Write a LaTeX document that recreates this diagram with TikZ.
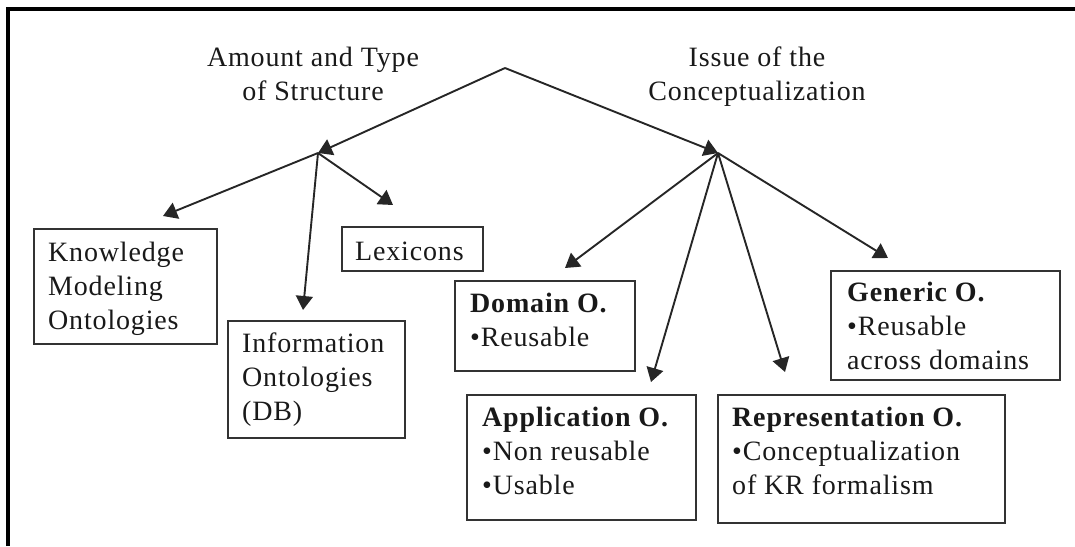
\documentclass[tikz,border=0pt]{standalone}
\usepackage{fontspec}
\setmainfont[LetterSpace=3]{Liberation Serif}
\usetikzlibrary{arrows.meta}

\newcommand\dfont{\fontsize{28}{34}\selectfont}

\begin{document}
\begin{tikzpicture}[x=1pt,y=-1pt,
  box/.style={draw=black!80, line width=2.2pt, inner sep=0pt, anchor=north west},
  txt/.style={font=\dfont, align=left, inner sep=0pt, anchor=north west, text=black!90},
  ttl/.style={font=\dfont, align=center, inner sep=0pt, anchor=north, text=black!90},
  link/.style={draw=black!85, line width=1.9pt, -{Triangle[length=14pt,width=17pt]}},
  rule/.style={draw=black, line width=3.2pt}]

  \useasboundingbox (0,0) rectangle (1075,546);

  % frame lines along the top and left edge
  \coordinate (fl) at (8,546);
  \coordinate (fc) at (8,9);
  \coordinate (fr) at (1075,9);
  \draw[rule] (fl) -- (fc) -- (fr);

  % branch points
  \coordinate (top) at (505,68);
  \coordinate (jl) at (318,153);
  \coordinate (jr) at (718,153);

  % category headings
  \node[ttl] (amount) at (313,42.2) {\strut Amount and Type\\of Structure};
  \node[ttl] (issue) at (757,42.2) {\strut Issue of the\\Conceptualization};

  % boxes
  \node[box, minimum width=183pt, minimum height=115pt] (kmo) at (33,228) {};
  \node[box, minimum width=141pt, minimum height=44pt]  (lex) at (341,226) {};
  \node[box, minimum width=177pt, minimum height=117pt] (inf) at (227,320) {};
  \node[box, minimum width=180pt, minimum height=90pt]  (dom) at (454,280) {};
  \node[box, minimum width=229pt, minimum height=125pt] (app) at (466,394) {};
  \node[box, minimum width=287pt, minimum height=128pt] (rep) at (717,394) {};
  \node[box, minimum width=229pt, minimum height=109pt] (gen) at (830,270) {};

  % box texts
  \node[txt] (kmo-t) at (48,237.2)  {\strut Knowledge\\Modeling\\Ontologies};
  \node[txt] (lex-t) at (355,236.2) {\strut Lexicons};
  \node[txt] (inf-t) at (242,328.2) {\strut Information\\Ontologies\\(DB)};
  \node[txt] (dom-t) at (470,288.7) {\strut\textbf{Domain O.}\\•Reusable};
  \node[txt] (app-t) at (482,402.7) {\strut\textbf{Application O.}\\•Non reusable\\•Usable};
  \node[txt] (rep-t) at (732,402.7) {\strut\textbf{Representation O.}\\•Conceptualization\\of KR formalism};
  \node[txt] (gen-t) at (847,277.7) {\strut\textbf{Generic O.}\\•Reusable\\across domains};

  % arrow ends above the boxes
  \coordinate (kmo-in) at (163,216);
  \coordinate (lex-in) at (393,205);
  \coordinate (inf-in) at (303,310);
  \coordinate (dom-in) at (565,268);
  \coordinate (app-in) at (651,382);
  \coordinate (rep-in) at (785,372);
  \coordinate (gen-in) at (888,258);

  % connectors
  \draw[link] (top) -- (jl);
  \draw[link] (top) -- (jr);
  \draw[link] (jl) -- (kmo-in);
  \draw[link] (jl) -- (inf-in);
  \draw[link] (jl) -- (lex-in);
  \draw[link] (jr) -- (dom-in);
  \draw[link] (jr) -- (app-in);
  \draw[link] (jr) -- (rep-in);
  \draw[link] (jr) -- (gen-in);
\end{tikzpicture}
\end{document}
